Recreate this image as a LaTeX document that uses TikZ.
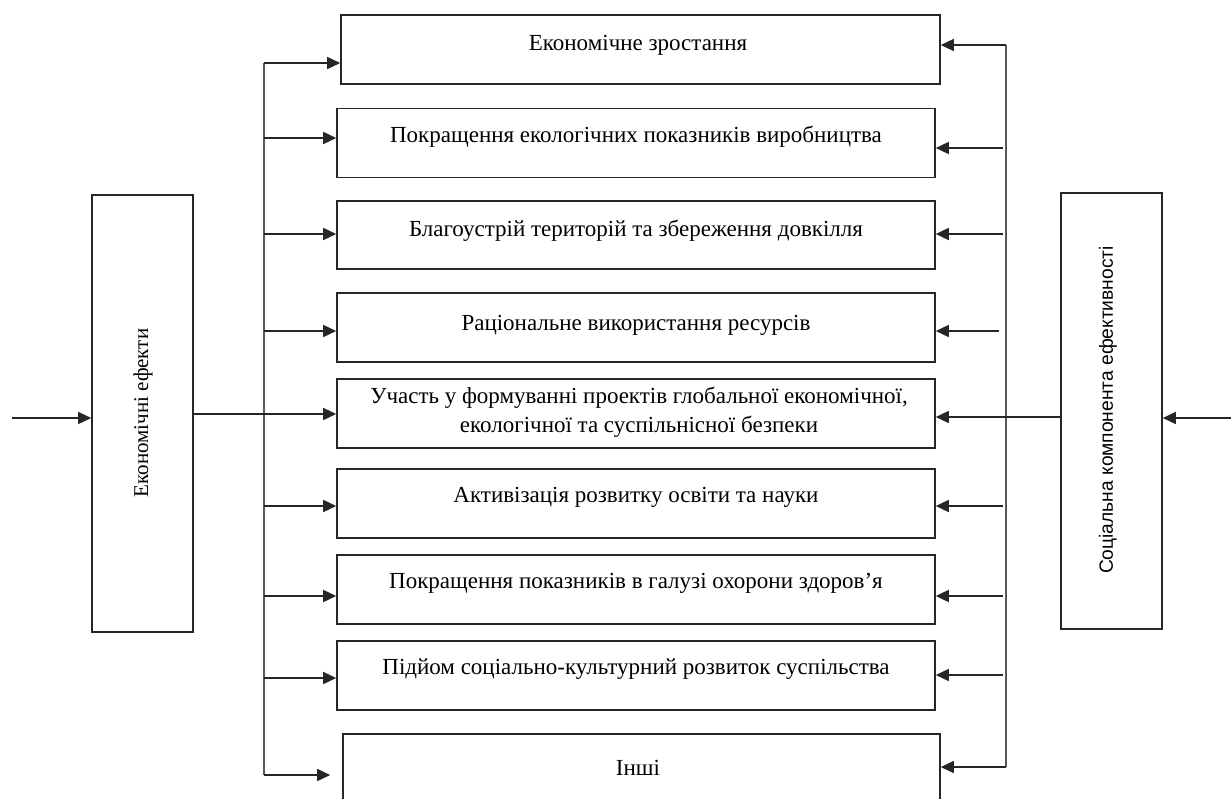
\documentclass[tikz,border=0pt]{standalone}
\usepackage{fontspec}
\setmainfont{Liberation Serif}
\newfontfamily\sansrot{Liberation Sans}
\usetikzlibrary{arrows.meta}
\tikzset{
  box/.style={draw=black!85, line width=1.6pt, minimum height=69pt, inner sep=0pt},
  lbl/.style={inner sep=0pt, font=\fontsize{23}{29}\selectfont, align=center},
  arr/.style={draw=black!85, line width=1.5pt, -{Triangle[length=13pt,width=12pt]}},
  bus/.style={draw=black!65, line width=1.6pt},
}
\begin{document}
\begin{tikzpicture}[x=1pt,y=-1pt]
\useasboundingbox (0,0) rectangle (1231,798);
\clip (0,0) rectangle (1231,798);
\fill[white] (0,0) rectangle (1231,798);

% side boxes
\node[box, minimum width=101pt, minimum height=437pt] (econ) at (142.5,413.5) {};
\node[rotate=90, font=\fontsize{21}{24}\selectfont] at (143,413) {Економічні ефекти};
\node[box, minimum width=101pt, minimum height=436pt] (soc) at (1111.5,411) {};
\node[rotate=90, font=\sansrot\fontsize{19.2}{22}\selectfont] at (1108,410) {Соціальна компонента ефективності};

% central boxes
\node[box, minimum width=599pt] (b1) at (640.5,49.5) {};
\node[box, minimum width=598pt] (b2) at (636,143) {};
\node[box, minimum width=598pt, minimum height=68pt] (b3) at (636,235) {};
\node[box, minimum width=598pt] (b4) at (636,327.5) {};
\node[box, minimum width=598pt] (b5) at (636,413.5) {};
\node[box, minimum width=598pt] (b6) at (636,503.5) {};
\node[box, minimum width=598pt] (b7) at (636,589.5) {};
\node[box, minimum width=598pt] (b8) at (636,675.5) {};
\node[box, minimum width=597pt, minimum height=90pt] (b9) at (641.5,779) {};

\node[lbl] at (638,45) {Економічне зростання};
\node[lbl] at (636,137) {Покращення екологічних показників виробництва};
\node[lbl] at (636,231) {Благоустрій територій та збереження довкілля};
\node[lbl] at (636,325) {Раціональне використання ресурсів};
\node[lbl] at (639,412) {Участь у формуванні проектів глобальної економічної,\\екологічної та суспільнісної безпеки};
\node[lbl] at (636,497) {Активізація розвитку освіти та науки};
\node[lbl] at (636,583) {Покращення показників в галузі охорони здоров’я};
\node[lbl] at (636,669) {Підйом соціально-культурний розвиток суспільства};
\node[lbl] at (638,768) {Інші};

% left bus
\coordinate (L1) at (264,63);
\coordinate (L2) at (264,138);
\coordinate (L3) at (264,234);
\coordinate (L4) at (264,331);
\coordinate (L6) at (264,506);
\coordinate (L7) at (264,596);
\coordinate (L8) at (264,678);
\coordinate (L9) at (264,775);
\draw[bus] (L1) -- (L9);
\draw[arr] (L1) -- (L1 -| b1.west);
\draw[arr] (L2) -- (L2 -| b2.west);
\draw[arr] (L3) -- (L3 -| b3.west);
\draw[arr] (L4) -- (L4 -| b4.west);
\draw[arr] (L6) -- (L6 -| b6.west);
\draw[arr] (L7) -- (L7 -| b7.west);
\draw[arr] (L8) -- (L8 -| b8.west);
\draw[arr] (L9) -- ([xshift=-12pt]L9 -| b9.west);

% right bus
\coordinate (R1) at (1006,45);
\coordinate (R2) at (1003,148);
\coordinate (R3) at (1003,234);
\coordinate (R4) at (999,331);
\coordinate (R6) at (1003,506);
\coordinate (R7) at (1003,596);
\coordinate (R8) at (1003,675);
\coordinate (R9) at (1006,767);
\draw[bus] (R1) -- (R9);
\draw[arr] (R1) -- (R1 -| b1.east);
\draw[arr] (R2) -- (R2 -| b2.east);
\draw[arr] (R3) -- (R3 -| b3.east);
\draw[arr] (R4) -- (R4 -| b4.east);
\draw[arr] (R6) -- (R6 -| b6.east);
\draw[arr] (R7) -- (R7 -| b7.east);
\draw[arr] (R8) -- (R8 -| b8.east);
\draw[arr] (R9) -- (R9 -| b9.east);

% flows through the side boxes
\coordinate (inL) at (12,418);
\draw[arr] (inL) -- (inL -| econ.west);
\coordinate (outL) at (econ.east |- 0,414);
\draw[arr] (outL) -- (outL -| b5.west);
\coordinate (inR) at (1231,418);
\draw[arr] (inR) -- (inR -| soc.east);
\coordinate (outR) at (soc.west |- 0,417);
\draw[arr] (outR) -- (outR -| b5.east);
\end{tikzpicture}
\end{document}
